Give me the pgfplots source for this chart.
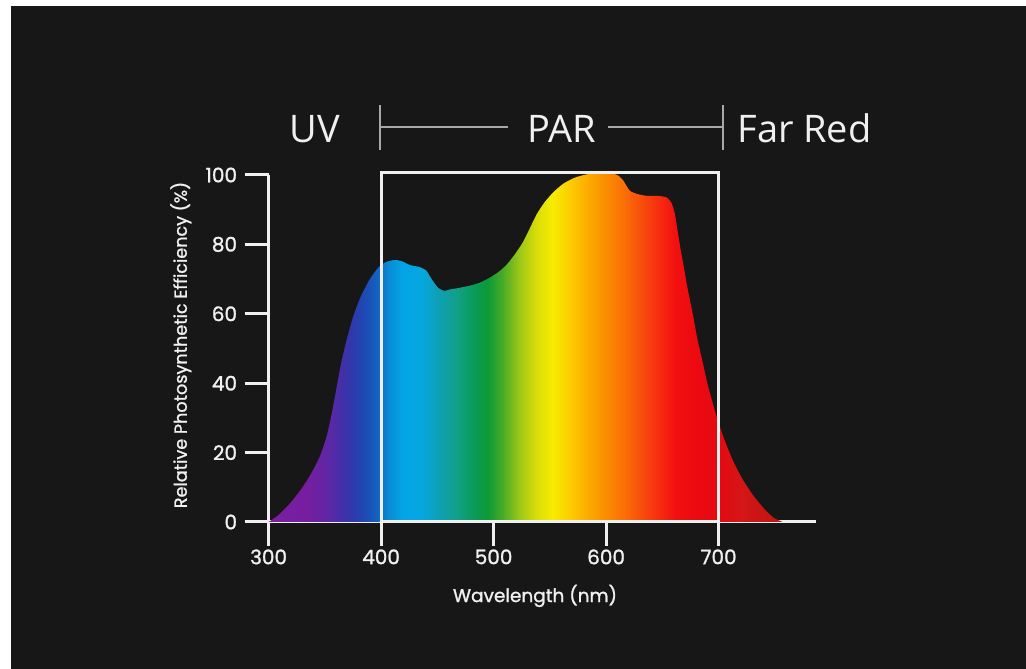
\documentclass[border=0pt]{standalone}
\usepackage{pgfplots}
\pgfplotsset{compat=1.18}
\usepackage{fontspec}
\setmainfont{Poppins}[FakeBold=1.3]
\newfontfamily\headfont{Open Sans}
\definecolor{bg}{HTML}{171717}
\definecolor{axiscol}{HTML}{F0F0F0}
\definecolor{linecol}{HTML}{A8A8A8}
\definecolor{s01}{HTML}{7B1EA0}
\definecolor{s02}{HTML}{761EA0}
\definecolor{s03}{HTML}{5A28A6}
\definecolor{s04}{HTML}{3236AA}
\definecolor{s05}{HTML}{1A4EB6}
\definecolor{s06}{HTML}{1466C2}
\definecolor{s07}{HTML}{0A8AD2}
\definecolor{s08}{HTML}{02A6E6}
\definecolor{s09}{HTML}{05A6E0}
\definecolor{s10}{HTML}{0FA0B8}
\definecolor{s11}{HTML}{10A085}
\definecolor{s12}{HTML}{0B9A52}
\definecolor{s13}{HTML}{0D9A38}
\definecolor{s14}{HTML}{4AAC26}
\definecolor{s15}{HTML}{98C618}
\definecolor{s16}{HTML}{D8DC08}
\definecolor{s17}{HTML}{F6EC00}
\definecolor{s18}{HTML}{FCD200}
\definecolor{s19}{HTML}{FCB400}
\definecolor{s20}{HTML}{FA9200}
\definecolor{s21}{HTML}{FA7006}
\definecolor{s22}{HTML}{F84C0C}
\definecolor{s23}{HTML}{F62A10}
\definecolor{s24}{HTML}{F21010}
\definecolor{s25}{HTML}{EC0A10}
\definecolor{s26}{HTML}{E40A12}
\definecolor{s27}{HTML}{D41616}
\definecolor{s28}{HTML}{BE1414}
\pgfdeclarehorizontalshading{spectrum}{100bp}{%
color(0bp)=(s01); color(25bp)=(s01); color(28.8bp)=(s02); color(31bp)=(s03);
color(32.9bp)=(s04); color(34.6bp)=(s05); color(35.7bp)=(s06); color(36.6bp)=(s07);
color(38.1bp)=(s08); color(39.8bp)=(s09); color(41.4bp)=(s10); color(43.4bp)=(s11);
color(45.2bp)=(s12); color(46.3bp)=(s13); color(47.8bp)=(s14); color(49.3bp)=(s15);
color(51bp)=(s16); color(52.6bp)=(s17); color(54bp)=(s18); color(55.6bp)=(s19);
color(57.5bp)=(s20); color(59.5bp)=(s21); color(61.3bp)=(s22); color(63.1bp)=(s23);
color(64.6bp)=(s24); color(66.6bp)=(s25); color(68.8bp)=(s26); color(71bp)=(s27);
color(75bp)=(s28); color(100bp)=(s28)}
\pgfplotstableread{
nm pct
300 0
308 1.8
318 5
328 9
337 13.5
345 18.5
351 24
356 31
360 38
364 45
369 52
375 59
382 65
390 70
398 73.5
405 75
412 75.5
418 75.2
426 74
434 73.5
440 72.5
443 71
447 69
451 67.4
456 66.6
461 67
470 67.5
480 68.2
488 69
497 70.5
505 72.2
512 74.3
519 77.2
526 80.6
532 84.5
538 88.5
545 92
553 95
562 97.5
572 99.2
583 100.2
595 100.5
605 100.4
610 100
615 98.5
621 95.5
628 94.5
636 94
646 94
654 93.5
658 92
661 89
664 83
666.5 78
668.5 74.6
672 68
677 60
681 53
686 45.8
690 40
695 34
700 28.5
706 23
713 17.5
721 12.5
730 8
740 4
749 1.2
757 0
}\spectrumdata
\begin{document}
\begin{tikzpicture}
\useasboundingbox (0,0) rectangle (1026pt,669pt);
\fill[white] (0,0) rectangle (1026pt,669pt);
\fill[bg] (11pt,0) rectangle (1026pt,663pt);
\begin{axis}[
  at={(268.6pt,147pt)}, anchor=south west,
  scale only axis, width=450pt, height=347pt,
  xmin=300, xmax=700, ymin=0, ymax=100,
  clip=false,
  axis x line=bottom, axis y line=left,
  axis line style={draw=axiscol, line width=3pt, -},
  x axis line style={shorten <=-21pt, shorten >=-97pt},
  xtick={300,400,...,700}, ytick={0,20,...,100},
  tick align=outside, major tick length=24pt,
  tick style={draw=axiscol, line width=3pt},
  ticklabel style={text=axiscol, font=\fontsize{20}{24}\selectfont},
  yticklabel style={xshift=-4pt},
  /pgf/number format/assume math mode=true,
  xlabel={Wavelength (nm)},
  ylabel={Relative Photosynthetic Efficiency (\%)},
  label style={text=axiscol},
  xlabel style={font=\fontsize{18.5}{22}\selectfont, at={(axis description cs:0.592,-0.213)}, anchor=center},
  ylabel style={font=\fontsize{17.6}{20}\selectfont, at={(axis description cs:-0.195,0.51)}, anchor=center},
]
\addplot[draw=none, shading=spectrum, smooth, tension=0.4] table[x=nm, y=pct] {\spectrumdata} \closedcycle;
\draw[axiscol, line width=3pt] (axis cs:400,0) rectangle (axis cs:700,100.8);
\end{axis}
\draw[linecol, line width=1.5pt] (380pt,542pt) -- (508pt,542pt);
\draw[linecol, line width=1.5pt] (608pt,542pt) -- (723pt,542pt);
\draw[linecol, line width=1.5pt] (380pt,519pt) -- (380pt,564pt);
\draw[linecol, line width=1.5pt] (723pt,519pt) -- (723pt,564pt);
\node[anchor=base, text=axiscol, font=\headfont\fontsize{38}{44}\selectfont] at (315pt,526pt) {UV};
\node[anchor=base, text=axiscol, font=\headfont\fontsize{38}{44}\selectfont] at (562pt,526pt) {PAR};
\node[anchor=base, text=axiscol, font=\headfont\fontsize{38}{44}\selectfont] at (804.5pt,526pt) {Far Red};
\end{tikzpicture}
\end{document}
